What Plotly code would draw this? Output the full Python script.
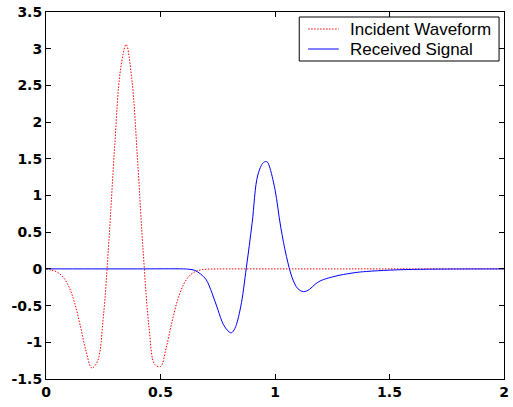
import plotly.graph_objects as go

# Incident waveform (red dotted)
inc_x = [0.0, 0.025, 0.05, 0.075, 0.1, 0.125, 0.15, 0.175, 0.2, 0.225, 0.25, 0.275,
         0.3, 0.325, 0.35, 0.375, 0.4, 0.425, 0.45, 0.475, 0.5, 0.525, 0.55, 0.575,
         0.6, 0.625, 0.65, 0.675, 0.7, 0.8, 1.0, 1.2, 1.4, 1.6, 1.8, 2.0]
inc_y = [0.0, -0.017, -0.046, -0.112, -0.243, -0.464, -0.778, -1.123, -1.351, -1.256,
         -0.669, 0.397, 1.676, 2.705, 3.057, 2.577, 1.474, 0.202, -0.799, -1.301,
         -1.330, -1.071, -0.723, -0.422, -0.216, -0.098, -0.040, -0.014, -0.004,
         0.0, 0.0, 0.0, 0.0, 0.0, 0.0, 0.0]

# Received signal (blue solid)
rec_x = [0.0, 0.2, 0.4, 0.6, 0.625, 0.65, 0.675, 0.7, 0.725, 0.75, 0.775, 0.8, 0.81,
         0.825, 0.85, 0.875, 0.9, 0.925, 0.95, 0.965, 0.975, 1.0, 1.025, 1.05, 1.075,
         1.1, 1.125, 1.15, 1.175, 1.2, 1.25, 1.3, 1.35, 1.4, 1.5, 1.6, 1.75, 2.0]
rec_y = [0.0, 0.0, 0.0, 0.0, -0.005, -0.02, -0.07, -0.15, -0.33, -0.55, -0.76, -0.86,
         -0.87, -0.81, -0.52, 0.02, 0.62, 1.28, 1.45, 1.46, 1.40, 1.08, 0.57, 0.17,
         -0.12, -0.27, -0.31, -0.28, -0.21, -0.16, -0.11, -0.075, -0.05, -0.035,
         -0.017, -0.007, -0.002, 0.0]

series_names = ["Incident Waveform", "Received Signal"]
x_ticks = [0, 0.5, 1, 1.5, 2]
y_ticks = [-1.5, -1, -0.5, 0, 0.5, 1, 1.5, 2, 2.5, 3, 3.5]

RED, BLUE = "#ff0000", "#0000ff"
RED_DASH = "1.5px,1.5px"
FONT = "Liberation Sans, Arial, Helvetica"
TICK_FONT = "DejaVu Sans"

W, H = 513, 407
ML, MR, MT, MB = 46, 4, 12, 28
PW, PH = W - ML - MR, H - MT - MB


def px(x):
    return (x - ML) / PW


def py(y):
    return (H - MB - y) / PH


fig = go.Figure()
fig.add_trace(go.Scatter(x=inc_x, y=inc_y, mode="lines", name=series_names[0], showlegend=False,
                         line=dict(color=RED, width=1, dash=RED_DASH, shape="spline", smoothing=1.0)))
fig.add_trace(go.Scatter(x=rec_x, y=rec_y, mode="lines", name=series_names[1], showlegend=False,
                         line=dict(color=BLUE, width=1, shape="spline", smoothing=1.0)))

axis_common = dict(showline=True, linecolor="black", linewidth=1, mirror="ticks",
                   ticks="inside", ticklen=5, tickcolor="black", tickwidth=1,
                   showgrid=False, zeroline=False, ticklabeloverflow="allow",
                   tickfont=dict(family=TICK_FONT, size=14, color="black", weight="bold"))

fig.update_xaxes(range=[0, 2], tickvals=x_ticks,
                 ticktext=["%g" % v for v in x_ticks], **axis_common)
fig.update_yaxes(range=[-1.5, 3.5], tickvals=y_ticks,
                 ticktext=["%g" % v for v in y_ticks], **axis_common)

# Legend box (drawn manually to match the compact MATLAB legend)
shapes = [dict(type="rect", xref="paper", yref="paper",
               x0=px(302), x1=px(504), y0=py(61), y1=py(17),
               line=dict(color="black", width=1), fillcolor="white", layer="above")]
annotations = []
rows = [(29, RED, RED_DASH), (49, BLUE, "solid")]
for name, (ry, col, dash) in zip(series_names, rows):
    shapes.append(dict(type="line", xref="paper", yref="paper",
                       x0=px(311), x1=px(342), y0=py(ry), y1=py(ry),
                       line=dict(color=col, width=1, dash=dash), layer="above"))
    annotations.append(dict(xref="paper", yref="paper", x=px(351), y=py(ry),
                            xanchor="left", yanchor="middle", showarrow=False,
                            text=name, font=dict(family=FONT, size=17, color="black")))

fig.update_layout(
    width=W, height=H,
    margin=dict(l=ML, r=MR, t=MT, b=MB),
    paper_bgcolor="white", plot_bgcolor="white",
    showlegend=False,
    shapes=shapes, annotations=annotations,
)

fig.write_html("out.html")
